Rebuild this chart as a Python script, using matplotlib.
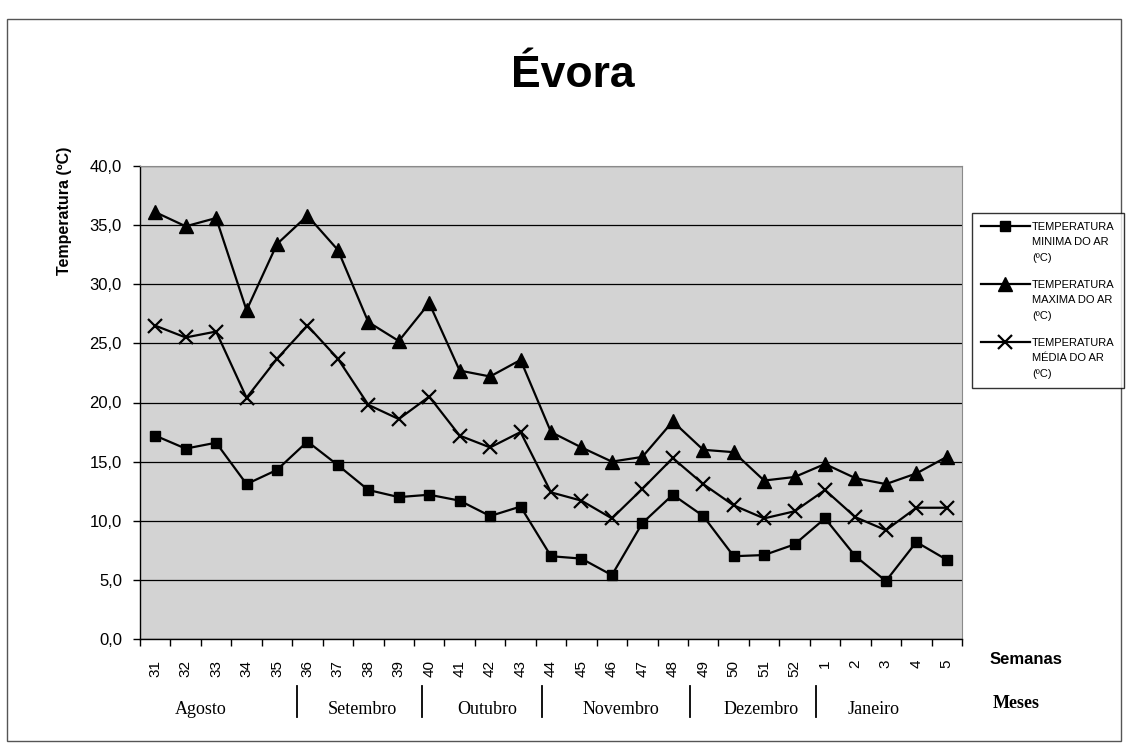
import matplotlib
matplotlib.use("Agg")
import matplotlib.pyplot as plt
from matplotlib.patches import Rectangle

# weekly air temperature, Evora
weeks = [str(w) for w in range(31, 53)] + [str(w) for w in range(1, 6)]
t_min = [17.2, 16.1, 16.6, 13.1, 14.3, 16.7, 14.7, 12.6, 12.0, 12.2, 11.7, 10.4, 11.2,
         7.0, 6.8, 5.4, 9.8, 12.2, 10.4, 7.0, 7.1, 8.0, 10.2, 7.0, 4.9, 8.2, 6.7]
t_max = [36.1, 34.9, 35.6, 27.8, 33.4, 35.8, 32.9, 26.8, 25.2, 28.4, 22.7, 22.2, 23.6,
         17.5, 16.2, 15.0, 15.4, 18.4, 16.0, 15.8, 13.4, 13.7, 14.8, 13.6, 13.1, 14.0, 15.4]
t_med = [26.5, 25.5, 26.0, 20.4, 23.7, 26.5, 23.7, 19.8, 18.6, 20.5, 17.2, 16.2, 17.5,
         12.4, 11.7, 10.2, 12.7, 15.3, 13.1, 11.3, 10.2, 10.8, 12.6, 10.3, 9.2, 11.1, 11.1]

months = ["Agosto", "Setembro", "Outubro", "Novembro", "Dezembro", "Janeiro"]
month_pos = [1.5, 6.8, 10.9, 15.3, 19.9, 23.6]      # label centre, in week units
month_sep = [4.65, 8.75, 12.7, 17.55, 21.7]         # separator bars

labels = ["TEMPERATURA\nMINIMA DO AR\n(ºC)",
          "TEMPERATURA\nMAXIMA DO AR\n(ºC)",
          "TEMPERATURA\nMÉDIA DO AR\n(ºC)"]

W, H = 1127, 745
fig = plt.figure(figsize=(W / 100, H / 100), dpi=100)
fig.patch.set_facecolor("white")
ax = fig.add_axes([140 / W, 1 - 639 / H, (962 - 140) / W, (639 - 166) / H])
ax.set_facecolor("#d3d3d3")

xs = list(range(len(weeks)))
ax.plot(xs, t_min, color="black", lw=1.6, marker="s", ms=7.5, mfc="black", mec="black", label=labels[0])
ax.plot(xs, t_max, color="black", lw=1.6, marker="^", ms=10, mfc="black", mec="black", label=labels[1])
ax.plot(xs, t_med, color="black", lw=1.6, marker="x", ms=10, mew=1.6, label=labels[2])

ax.set_xlim(-0.5, len(weeks) - 0.5)
ax.set_ylim(0, 40)

ax.set_yticks(range(0, 41, 5))
ax.set_yticklabels([f"{v:.1f}".replace(".", ",") for v in range(0, 41, 5)],
                   family="Liberation Sans", fontsize=12)
ax.tick_params(axis="y", direction="out", length=5, width=1, pad=8, colors="black")
ax.yaxis.grid(True, color="black", lw=0.9)
ax.set_axisbelow(True)

ax.set_xticks(xs)
ax.set_xticklabels(weeks, rotation=90, family="Liberation Sans", fontsize=11)
ax.set_xticks([x - 0.5 for x in range(len(weeks) + 1)], minor=True)
ax.tick_params(axis="x", which="major", length=0, pad=15)
ax.tick_params(axis="x", which="minor", direction="out", length=5, width=1)

for side in ["left", "bottom"]:
    ax.spines[side].set_color("black")
    ax.spines[side].set_linewidth(1)
for side in ["top", "right"]:
    ax.spines[side].set_color("#8a8a8a")
    ax.spines[side].set_linewidth(0.8)

# month row under the week labels
for name, x in zip(months, month_pos):
    ax.text(x, -0.148, name, transform=ax.get_xaxis_transform(), ha="center", va="center",
            family="Liberation Serif", fontsize=13, clip_on=False)
for x in month_sep:
    ax.plot([x, x], [-0.10, -0.165], transform=ax.get_xaxis_transform(), color="black",
            lw=1.3, clip_on=False)

fig.text(1026 / W, 1 - 660 / H, "Semanas", ha="center", va="center",
         family="Liberation Sans", fontweight="bold", fontsize=12)
fig.text(1016 / W, 1 - 703 / H, "Meses", ha="center", va="center",
         family="Liberation Serif", fontweight="bold", fontsize=13)

fig.text(573 / W, 1 - 87 / H, "Évora", ha="center", va="baseline",
         family="Liberation Sans", fontweight="bold", fontsize=32)
fig.text(64 / W, 1 - 211 / H, "Temperatura (ºC)", rotation=90, ha="center", va="center",
         family="Liberation Sans", fontweight="bold", fontsize=11.5)

leg = fig.legend(loc="upper left", bbox_to_anchor=(972 / W, 1 - 213 / H), borderaxespad=0,
                 prop={"family": "Liberation Sans", "size": 8}, handlelength=4.4,
                 handletextpad=0.2, labelspacing=1.5, borderpad=0.8, fancybox=False,
                 frameon=True, edgecolor="black")
leg.get_frame().set_linewidth(1)
for t in leg.get_texts():
    t.set_linespacing(1.7)
# put each handle next to the first line of its label, as in the original
for col in leg._legend_handle_box.get_children():
    for row in col.get_children():
        row.align = "top"

# outer chart border
fig.patches.append(Rectangle((7 / W, 1 - 741 / H), (1121 - 7) / W, (741 - 19) / H,
                             transform=fig.transFigure, fill=False, edgecolor="#555555", lw=1))

fig.savefig("out.png", dpi=100)
